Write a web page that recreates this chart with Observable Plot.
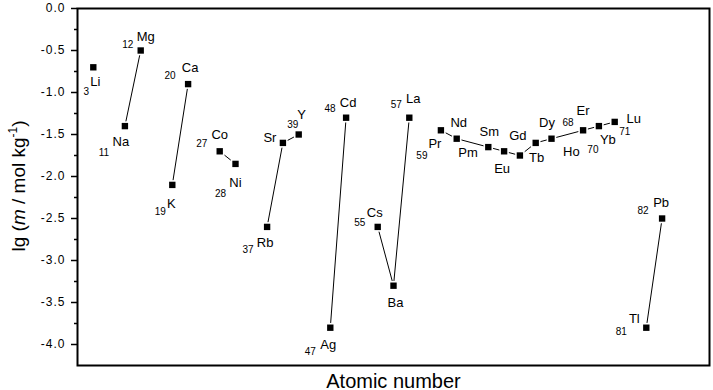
<!DOCTYPE html>
<html><head><meta charset="utf-8">
<script src="https://cdn.jsdelivr.net/npm/d3@7"></script>
<script src="https://cdn.jsdelivr.net/npm/@observablehq/plot@0.6"></script>
<style>body{margin:0;background:#fff} svg{display:block}</style>
</head><body><div id="chart"></div>
<script>
// element symbols, atomic-number captions, slot on the x axis, lg(m / mol kg^-1), connected series
const symbols = ["Li","Na","Mg","K","Ca","Co","Ni","Rb","Sr","Y","Ag","Cd","Cs","Ba","La","Pr","Nd","Pm","Sm","Eu","Gd","Tb","Dy","Ho","Er","Yb","Lu","Tl","Pb"];
const numbers = ["3","11","12","19","20","27","28","37","","39","47","48","55","","57","59","","","","","","","","","68","70","71","81","82"];
const slots = [1,3,4,6,7,9,10,12,13,14,16,17,19,20,21,23,24,25,26,27,28,29,30,31,32,33,34,36,37];
const values = [-0.7,-1.4,-0.5,-2.1,-0.9,-1.7,-1.85,-2.6,-1.6,-1.5,-3.8,-1.3,-2.6,-3.3,-1.3,-1.45,-1.55,null,-1.65,-1.7,-1.75,-1.6,-1.55,null,-1.45,-1.4,-1.35,-3.8,-2.5];
const groups = ["Li","Na-Mg","Na-Mg","K-Ca","K-Ca","Co-Ni","Co-Ni","Rb-Y","Rb-Y","Rb-Y","Ag-Cd","Ag-Cd","Cs-La","Cs-La","Cs-La",
  "Ln","Ln","Ln","Ln","Ln","Ln","Ln","Ln","Ln","Ln","Ln","Ln","Tl-Pb","Tl-Pb"];
const majorTicks = [0,-0.5,-1,-1.5,-2,-2.5,-3,-3.5,-4];
const minorTicks = [-0.25,-0.75,-1.25,-1.75,-2.25,-2.75,-3.25,-3.75];

// label layout: [symbol dx, symbol dy, number dx, number dy] in pixels
const labelOffsets = [
  [2,15,-7,24],[-4,16,-21,27],[5,-14,-13,-6],[-1,19,-12,27],[2,-16,-18,-8],
  [0,-16,-18,-8],[0,19,-15,30],[-2,16,-19,23],[-13,-5,0,0],[3,-20,-6,-10],
  [-2,17,-20,24],[2,-15,-16,-9],[-3,-14,-18,-4],[2,17,0,0],[4,-19,-13,-13],
  [-6,14,-19,25],[2,-16,0,0],[-4.5,144,0,0],[1,-15,0,0],[-2,18,0,0],
  [-2,-20,0,0],[1,15,0,0],[-4.5,-16,0,0],[4,143,0,0],[0,-19,-15,-8],
  [9,13.5,-6,23.5],[19,-3,10,10],[-12,-9,-25,4],[-1,-16,-19,-8]
];

const rows = symbols.map((s,i)=>({sym:s, num:numbers[i], slot:slots[i], v:values[i], group:groups[i]}));
const measured = rows.filter(d => d.v != null);
const font = "'Liberation Sans', Arial, Helvetica, sans-serif";

const labelMarks = [];
rows.forEach((d,i) => {
  const [sdx,sdy,ndx,ndy] = labelOffsets[i];
  const base = d.v == null ? {x:"slot", frameAnchor:"top"} : {x:"slot", y:"v"};
  labelMarks.push(Plot.text([d], {...base, text:"sym", dx:sdx, dy:sdy, fontSize:13, textAnchor:"middle", lineAnchor:"middle", fill:"#000"}));
  if (d.num) labelMarks.push(Plot.text([d], {...base, text:"num", dx:ndx, dy:ndy, fontSize:10, textAnchor:"middle", lineAnchor:"middle", fill:"#000"}));
});

const chart = Plot.plot({
  width:713, height:390,
  marginLeft:77, marginRight:4, marginTop:8, marginBottom:25,
  style:{fontFamily:font, background:"#fff", color:"#000"},
  x:{domain:[0,40], axis:null},
  y:{domain:[-4.25,0]},
  marks:[
    Plot.axisY({ticks:majorTicks, tickSize:6, tickPadding:6, tickFormat:d=>d.toFixed(1), fontSize:12, label:null, strokeWidth:1.5}),
    Plot.axisY({ticks:minorTicks, tickSize:3, fill:"none", label:null, strokeWidth:1.5}),
    Plot.line(measured, {x:"slot", y:"v", z:"group", stroke:"#000", strokeWidth:1}),
    Plot.dot(measured, {x:"slot", y:"v", symbol:"square", r:5.4, fill:"#fff"}),
    Plot.dot(measured, {x:"slot", y:"v", symbol:"square", r:3.6, fill:"#000"}),
    ...labelMarks,
    Plot.frame({stroke:"#000", strokeWidth:2}),
    Plot.text(["Atomic number"], {frameAnchor:"bottom", dy:22, fontSize:20, lineAnchor:"bottom", fill:"#000"})
  ]
});
document.getElementById("chart").appendChild(chart);

const svg = d3.select(chart);
svg.selectAll('g[aria-label="y-axis tick label"] text').style("letter-spacing","1px");
const t = svg.append("text")
  .attr("transform","translate(25,186) rotate(-90)")
  .attr("text-anchor","middle").attr("font-size",19).attr("fill","#000").attr("font-family",font);
t.append("tspan").text("lg (");
t.append("tspan").attr("font-style","italic").text("m");
t.append("tspan").text(" / mol kg");
t.append("tspan").attr("font-size",12).attr("dy",-8).text("-1");
t.append("tspan").attr("dy",8).text(")");
</script>
</body></html>
